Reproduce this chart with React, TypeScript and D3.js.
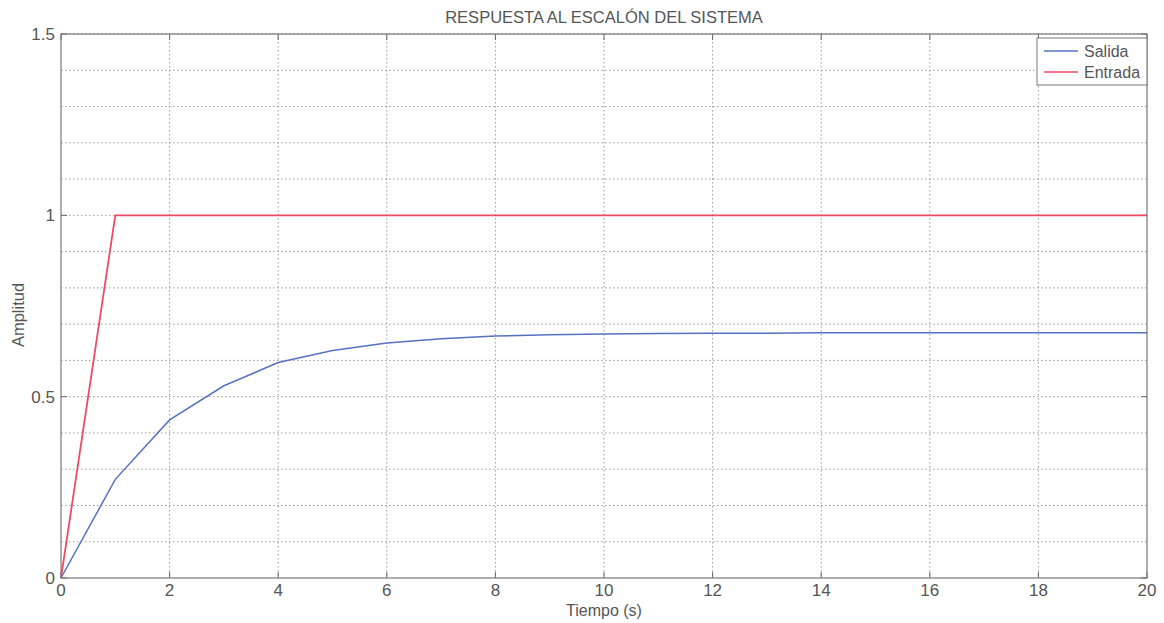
import React from "react";
import * as d3 from "d3";

// Step response samples, one per second
const tiempo = d3.range(0, 21);
const salida = [0, 0.272, 0.436, 0.530, 0.594, 0.627, 0.648, 0.660, 0.667, 0.671, 0.673, 0.674, 0.675, 0.675, 0.676, 0.676, 0.676, 0.676, 0.676, 0.676, 0.676];
const entrada = [0, 1, 1, 1, 1, 1, 1, 1, 1, 1, 1, 1, 1, 1, 1, 1, 1, 1, 1, 1, 1];

const xTicks = [0, 2, 4, 6, 8, 10, 12, 14, 16, 18, 20];
const yTicks = [0, 0.5, 1, 1.5];
const yGrid = d3.range(0, 16).map((i) => i / 10);

const seriesNames = ["Salida", "Entrada"];
const seriesColors = ["#5571c2", "#ee4a66"];

const W = 1164;
const H = 623;
const M = { left: 61, right: 17, top: 34, bottom: 45 };

export default function App() {
  const x = d3.scaleLinear().domain([0, 20]).range([M.left, W - M.right]);
  const y = d3.scaleLinear().domain([0, 1.5]).range([H - M.bottom, M.top]);
  const line = d3
    .line<number>()
    .x((_, i) => x(tiempo[i]))
    .y((d) => y(d));

  const font = "'Liberation Sans', Arial, sans-serif";
  const textColor = "#555";
  const gridColor = "#9a9a9a";
  const x0 = x(0), x1 = x(20), yB = y(0), yT = y(1.5);

  const lgX = 1037, lgY = 38, lgW = x1 - lgX, lgH = 47;

  return (
    <svg width={W} height={H} style={{ position: "absolute", left: 0, top: 0, background: "#fff" }} fontFamily={font}>
      <rect x={x0} y={yT} width={x1 - x0} height={yB - yT} fill="#fff" />
      {/* dotted grid */}
      {xTicks.slice(1, -1).map((t) => (
        <line key={"gx" + t} x1={x(t)} x2={x(t)} y1={yT} y2={yB} stroke={gridColor} strokeWidth={1} strokeDasharray="1.5,2.5" />
      ))}
      {yGrid.slice(1).map((t) => (
        <line key={"gy" + t} x1={x0} x2={x1} y1={y(t)} y2={y(t)} stroke={gridColor} strokeWidth={1} strokeDasharray="1.5,2.5" />
      ))}
      {/* tick marks on all four sides */}
      {xTicks.map((t) => (
        <g key={"tx" + t} stroke="#666" strokeWidth={1}>
          <line x1={x(t)} x2={x(t)} y1={yB} y2={yB - 6} />
          <line x1={x(t)} x2={x(t)} y1={yT} y2={yT + 6} />
        </g>
      ))}
      {yTicks.map((t) => (
        <g key={"ty" + t} stroke="#666" strokeWidth={1}>
          <line x1={x0} x2={x0 + 6} y1={y(t)} y2={y(t)} />
          <line x1={x1} x2={x1 - 6} y1={y(t)} y2={y(t)} />
        </g>
      ))}
      {/* series */}
      <path d={line(salida) ?? ""} fill="none" stroke={seriesColors[0]} strokeWidth={1.5} />
      <path d={line(entrada) ?? ""} fill="none" stroke={seriesColors[1]} strokeWidth={1.8} />
      {/* axes box */}
      <rect x={x0} y={yT} width={x1 - x0} height={yB - yT} fill="none" stroke="#777" strokeWidth={1.2} />
      {/* tick labels */}
      {xTicks.map((t) => (
        <text key={"lx" + t} x={x(t)} y={yB + 18} textAnchor="middle" fontSize={17} fill={textColor}>
          {t}
        </text>
      ))}
      {yTicks.map((t) => (
        <text key={"ly" + t} x={x0 - 6} y={y(t) + 6} textAnchor="end" fontSize={17} fill={textColor}>
          {t}
        </text>
      ))}
      {/* labels */}
      <text x={(x0 + x1) / 2} y={23} textAnchor="middle" fontSize={16.5} fill={textColor}>
        RESPUESTA AL ESCALÓN DEL SISTEMA
      </text>
      <text x={(x0 + x1) / 2} y={616} textAnchor="middle" fontSize={16} fill={textColor}>
        Tiempo (s)
      </text>
      <text transform={`translate(24,315) rotate(-90)`} textAnchor="middle" fontSize={16.5} fill={textColor}>
        Amplitud
      </text>
      {/* legend */}
      <rect x={lgX} y={lgY} width={lgW} height={lgH} fill="#fff" stroke="#777" strokeWidth={1} />
      {seriesNames.map((name, i) => (
        <g key={name}>
          <line x1={lgX + 7} x2={lgX + 41} y1={lgY + 13 + i * 21} y2={lgY + 13 + i * 21} stroke={seriesColors[i]} strokeWidth={1.5} />
          <text x={lgX + 47} y={lgY + 19 + i * 21} fontSize={16} fill={textColor}>
            {name}
          </text>
        </g>
      ))}
    </svg>
  );
}
